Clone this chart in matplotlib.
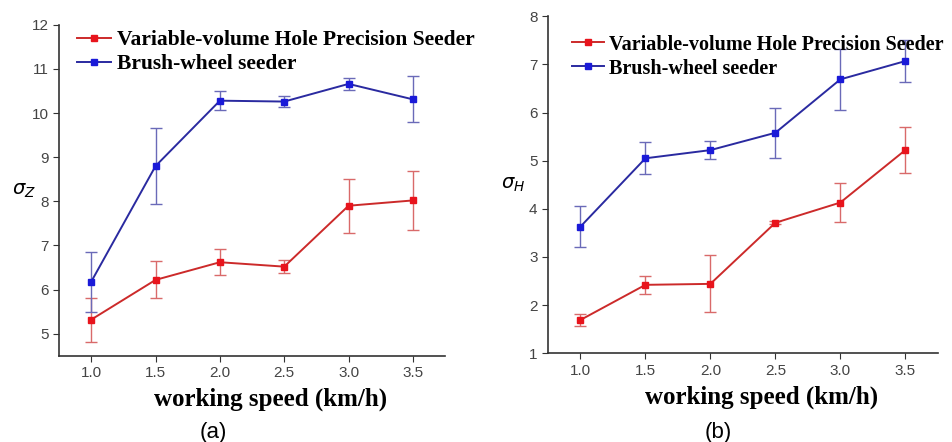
import numpy as np
import matplotlib.pyplot as plt

plt.rcParams.update({'font.family': 'DejaVu Sans'})

speed = [1.0, 1.5, 2.0, 2.5, 3.0, 3.5]
labels = ['Variable-volume Hole Precision Seeder', 'Brush-wheel seeder']

# panel (a): sigma_Z
z_red = [5.32, 6.22, 6.62, 6.52, 7.90, 8.02]
z_red_err = [0.50, 0.42, 0.29, 0.14, 0.61, 0.67]
z_blue = [6.18, 8.80, 10.28, 10.26, 10.66, 10.31]
z_blue_err = [0.68, 0.87, 0.22, 0.12, 0.14, 0.52]

# panel (b): sigma_H
h_red = [1.69, 2.42, 2.44, 3.71, 4.13, 5.22]
h_red_err = [0.12, 0.19, 0.59, 0.03, 0.41, 0.48]
h_blue = [3.63, 5.05, 5.22, 5.58, 6.69, 7.07]
h_blue_err = [0.43, 0.33, 0.18, 0.52, 0.64, 0.43]

serif = ['Liberation Serif', 'DejaVu Serif']
tick_font = ['Liberation Sans', 'DejaVu Sans']

fig = plt.figure(figsize=(9.53, 4.42), dpi=100)
ax1 = fig.add_axes([0.062, 0.195, 0.405, 0.749])
ax2 = fig.add_axes([0.575, 0.201, 0.409, 0.762])


def panel(ax, red, red_err, blue, blue_err, ylim, yticks, ylab,
          leg_x, leg_y, leg_size):
    e1 = ax.errorbar(speed, red, yerr=red_err, color='#cc2a2a', ecolor='#d96a6a',
                     elinewidth=1, capsize=4.3, capthick=1, marker='s', ms=5,
                     mfc='#e8141c', mec='#e8141c', lw=1.4)
    e2 = ax.errorbar(speed, blue, yerr=blue_err, color='#2a2aa0', ecolor='#6a6ab8',
                     elinewidth=1, capsize=4.3, capthick=1, marker='s', ms=5,
                     mfc='#1a1ad8', mec='#1a1ad8', lw=1.4)
    ax.set_xlim(0.75, 3.75)
    ax.set_ylim(*ylim)
    ax.set_xticks(speed)
    ax.set_xticklabels(['%.1f' % s for s in speed])
    ax.set_yticks(yticks)
    for s in ['top', 'right']:
        ax.spines[s].set_visible(False)
    for s in ['left', 'bottom']:
        ax.spines[s].set_color('#333333')
        ax.spines[s].set_linewidth(1.2)
    ax.tick_params(direction='out', length=4, color='#333333',
                   labelsize=11, labelcolor='#444444')
    for t in ax.get_xticklabels() + ax.get_yticklabels():
        t.set_family(tick_font)
    ax.set_xlabel('working speed (km/h)', family=serif, fontweight='bold',
                  fontsize=18)
    ax.xaxis.set_label_coords(0.548, -0.095)
    ax.set_ylabel(ylab, fontsize=14, rotation=0, va='center')
    ax.yaxis.set_label_coords(-0.09, 0.5)
    ax.legend([e1.lines[0], e2.lines[0]], labels, loc='upper left',
              bbox_to_anchor=(leg_x, leg_y), frameon=False, handlelength=1.6,
              handletextpad=0.25, labelspacing=0.2, markerscale=0.8,
              borderaxespad=0,
              prop={'family': serif, 'weight': 'bold', 'size': leg_size})


panel(ax1, z_red, z_red_err, z_blue, z_blue_err, (4.5, 12), range(5, 13),
      r'$\sigma_Z$', 0.024, 1.01, 15.5)
panel(ax2, h_red, h_red_err, h_blue, h_blue_err, (1, 8), range(1, 9),
      r'$\sigma_H$', 0.04, 0.97, 14.5)

fig.text(0.224, 0.008, '(a)', fontsize=16, ha='center', family=tick_font)
fig.text(0.754, 0.008, '(b)', fontsize=16, ha='center', family=tick_font)

fig.savefig('out.png', dpi=100)
